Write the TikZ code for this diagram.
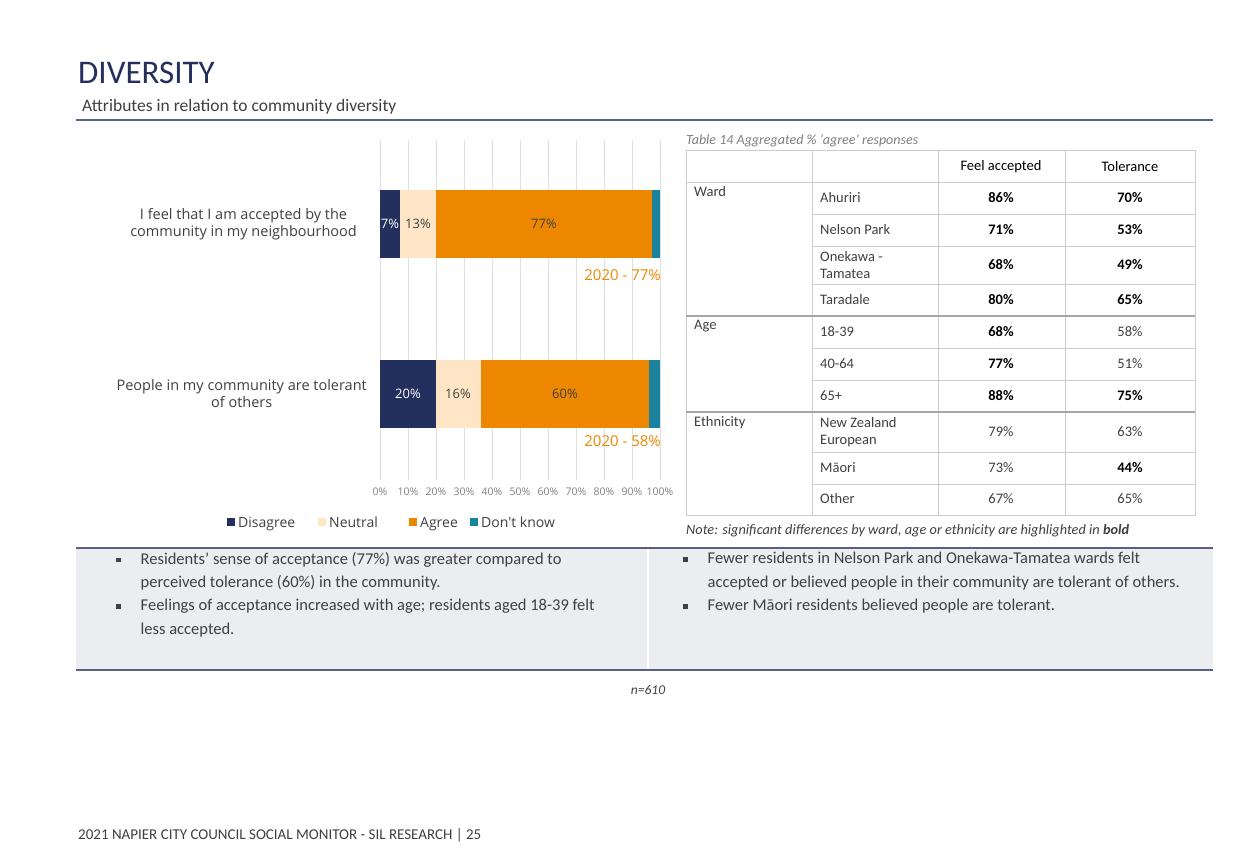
\documentclass[tikz,border=0pt]{standalone}
\usepackage{fontspec}
\setmainfont{Carlito}
\newfontfamily\chartfont{Open Sans}
\usetikzlibrary{positioning}
\definecolor{navy}{HTML}{232F5C}
\definecolor{cream}{HTML}{FDE5C6}
\definecolor{orng}{HTML}{EE8700}
\definecolor{teal}{HTML}{1A819E}
\definecolor{rule}{HTML}{5A6180}
\definecolor{boxgray}{HTML}{ECEDF1}
\definecolor{txt}{HTML}{404040}
\newcommand\sqbul{\raisebox{2pt}{\rule{4.5pt}{4.5pt}}}
\tikzset{
  lbl/.style={font=\chartfont\fontsize{13}{15}\selectfont,text=txt,inner sep=0pt},
  tick/.style={font=\chartfont\fontsize{10.5}{12}\selectfont,text=gray,inner sep=0pt},
  cell/.style={font=\fontsize{14.5}{17}\selectfont,text=txt,inner sep=0pt,align=left,anchor=west},
  num/.style={font=\fontsize{14.5}{17}\selectfont,text=txt,inner sep=0pt},
  bnum/.style={font=\bfseries\fontsize{14.5}{17}\selectfont,text=black,inner sep=0pt},
  bullet/.style={font=\fontsize{16.5}{23.5}\selectfont,text=txt,inner sep=0pt,anchor=north west,align=left},
}
\begin{document}
\begin{tikzpicture}[x=1pt,y=-1pt]
\useasboundingbox[fill=white] (0,0) rectangle (1250,863);
% heading
\node[anchor=base west,inner sep=0pt,text=navy,font=\fontsize{33}{36}\selectfont] (title) at (78,83) {DIVERSITY};
\node[anchor=base west,inner sep=0pt,text=txt,font=\fontsize{17.5}{20}\selectfont] (sub) at (82,111) {Attributes in relation to community diversity};
\draw[rule,line width=2] (76,120) -- (1213,120);
% chart grid
\foreach \p in {0,10,...,100}{
  \draw[gray!25] ({380+2.8*\p},140) -- ({380+2.8*\p},480);
  \node[tick] at ({380+2.8*\p},492) {\p\%};
}
% bar 1
\fill[navy] (380,190) rectangle (400,258);
\fill[cream] (400,190) rectangle (436,258);
\fill[orng] (436,190) rectangle (652,258);
\fill[teal] (652,190) rectangle (660,258);
\node[lbl,text=white] at (390,224) {7\%};
\node[lbl] at (418,224) {13\%};
\node[lbl] at (544,224) {77\%};
\node[lbl,anchor=east,text=orng,font=\chartfont\fontsize{15}{17}\selectfont] (y1) at (661,275) {2020 - 77\%};
% bar 2
\fill[navy] (380,360) rectangle (436,428);
\fill[cream] (436,360) rectangle (481,428);
\fill[orng] (481,360) rectangle (649,428);
\fill[teal] (649,360) rectangle (660,428);
\node[lbl,text=white] at (408,394) {20\%};
\node[lbl] at (458,394) {16\%};
\node[lbl] at (565,394) {60\%};
\node[lbl,anchor=east,text=orng,font=\chartfont\fontsize{15}{17}\selectfont] (y2) at (661,441) {2020 - 58\%};
% categories
\node[lbl,align=center,anchor=east,font=\chartfont\fontsize{14.5}{17}\selectfont] (q1) at (357,224) {I feel that I am accepted by the\\community in my neighbourhood};
\node[lbl,align=center,anchor=east,font=\chartfont\fontsize{14.5}{17}\selectfont] (q2) at (367,394) {People in my community are tolerant\\of others};
% legend
\foreach \c/\t/\x in {navy/Disagree/227,cream/Neutral/318,orng/Agree/409,teal/Don't know/470}{
  \fill[\c] (\x,518) rectangle (\x+8,526);
  \node[lbl,anchor=base west,font=\chartfont\fontsize{14}{16}\selectfont] at (\x+11,527) {\t};
}
% table
\node[anchor=west,inner sep=0pt,text=gray,font=\itshape\fontsize{14}{16}\selectfont] (cap) at (686,141) {Table 14 Aggregated \% `agree' responses};
\draw[gray!40] (686,150) rectangle (1195,515);
\foreach \x in {812,938,1065} \draw[gray!40] (\x,150) -- (\x,515);
\draw[gray!40] (686,182) -- (1195,182);
\foreach \y in {214,246,284,348,380,452,484} \draw[gray!40] (812,\y) -- (1195,\y);
\foreach \y in {316,412} \draw[gray!70,line width=1.2] (686,\y) -- (1195,\y);
\node[num,text=black] at (1001,167) {Feel accepted};
\node[num,text=black] at (1130,167) {Tolerance};
\node[cell,anchor=north west] at (694,186) {Ward};
\node[cell,anchor=north west] at (694,320) {Age};
\node[cell,anchor=north west] at (694,416) {Ethnicity};
\foreach \y/\g/\a/\sa/\t/\st in {
  198/Ahuriri/86/bnum/70/bnum,
  230/Nelson Park/71/bnum/53/bnum,
  265/{Onekawa -\\Tamatea}/68/bnum/49/bnum,
  300/Taradale/80/bnum/65/bnum,
  332/18-39/68/bnum/58/num,
  364/40-64/77/bnum/51/num,
  396/65+/88/bnum/75/bnum,
  432/{New Zealand\\European}/79/num/63/num,
  468/M\={a}ori/73/num/44/bnum,
  499/Other/67/num/65/num}{
  \node[cell] at (820,\y) {\g};
  \node[\sa] at (1001,\y) {\a\%};
  \node[\st] at (1130,\y) {\t\%};
}
\node[anchor=west,inner sep=0pt,text=txt,font=\itshape\fontsize{14.3}{16}\selectfont] (note) at (686,531) {Note: significant differences by ward, age or ethnicity are highlighted in \textbf{bold}};
% summary box
\fill[boxgray] (76,548) rectangle (1213,670);
\draw[white,line width=1.5] (648,548) -- (648,670);
\draw[rule,line width=2] (76,548) -- (1213,548);
\draw[rule,line width=2] (76,670) -- (1213,670);
\node[bullet] (b1) at (116,552) {\sqbul\hspace{20pt}\parbox[t]{470pt}{\raggedright Residents' sense of acceptance (77\%) was greater compared to perceived tolerance (60\%) in the community.}};
\node[bullet] (b2) at (116,599) {\sqbul\hspace{20pt}\parbox[t]{470pt}{\raggedright Feelings of acceptance increased with age; residents aged 18-39 felt less accepted.}};
\node[bullet] (b3) at (683,552) {\sqbul\hspace{20pt}\parbox[t]{490pt}{\raggedright Fewer residents in Nelson Park and Onekawa-Tamatea wards felt accepted or believed people in their community are tolerant of others.}};
\node[bullet] (b4) at (683,599) {\sqbul\hspace{20pt}Fewer M\={a}ori residents believed people are tolerant.};
\node[inner sep=0pt,text=txt,font=\itshape\fontsize{13.5}{15}\selectfont] (n) at (648,690) {n=610};
\node[anchor=base west,inner sep=0pt,text=txt,font=\fontsize{15}{17}\selectfont] (foot) at (78,839) {2021 NAPIER CITY COUNCIL SOCIAL MONITOR - SIL RESEARCH | 25};
\end{tikzpicture}
\end{document}
